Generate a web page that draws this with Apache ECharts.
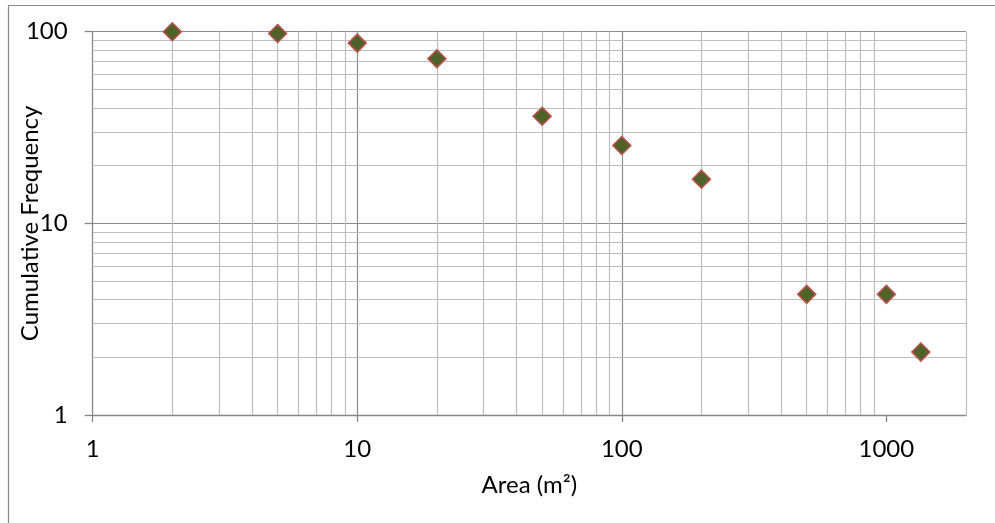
<!DOCTYPE html>
<html>
<head>
<meta charset="utf-8">
<script src="https://cdn.jsdelivr.net/npm/echarts@6/dist/echarts.min.js"></script>
<style>
  html, body { margin: 0; padding: 0; background: #ffffff; }
  #chart { width: 995px; height: 523px; }
</style>
</head>
<body>
<div id="chart"></div>
<script>
// ---- Data ----
const areas = [2, 5, 10, 20, 50, 100, 200, 500, 1000, 1350];
const cumulativeFrequency = [100, 97.9, 87.2, 72.3, 36.2, 25.5, 17.0, 4.26, 4.26, 2.13];
const xTickValues = [1, 10, 100, 1000];
const yTickValues = [1, 10, 100];
const xMinorGrid = [2, 3, 4, 5, 6, 7, 8, 9, 20, 30, 40, 50, 60, 70, 80, 90, 200, 300, 400, 500, 600, 700, 800, 900, 2000];
const yMinorGrid = [2, 3, 4, 5, 6, 7, 8, 9, 20, 30, 40, 50, 60, 70, 80, 90];
const xAxisTitle = 'Area (m²)';
const yAxisTitle = 'Cumulative Frequency';

// ---- Styles ----
const FONT = 'Lato';
const majorGrid = '#8c8c8c';
const minorGrid = '#bdbdbd';
const axisGray = '#868686';

const chart = echarts.init(document.getElementById('chart'), null, { renderer: 'canvas' });

const points = areas.map((a, i) => [a, cumulativeFrequency[i]]);

const option = {
  animation: false,
  backgroundColor: '#ffffff',
  graphic: [{
    type: 'rect',
    shape: { x: 8.5, y: 5.5, width: 1000, height: 540 },
    style: { fill: 'none', stroke: '#8a8a8a', lineWidth: 1.2 },
    z: -10,
    silent: true
  }],
  grid: { left: 92.7, top: 31.7, right: 29, bottom: 108, containLabel: false, outerBoundsMode: 'none' },
  xAxis: {
    type: 'log',
    logBase: 10,
    min: 1,
    max: 2000,
    name: xAxisTitle,
    nameLocation: 'middle',
    nameGap: 58,
    nameMoveOverlap: false,
    nameTextStyle: { fontFamily: FONT, fontSize: 24, color: '#000' },
    axisLine: { show: true, lineStyle: { color: axisGray, width: 1.3 } },
    axisTick: { show: true, inside: false, length: 7, lineStyle: { color: axisGray, width: 1.3 }, customValues: xTickValues },
    axisLabel: { fontFamily: FONT, fontSize: 24, color: '#000', margin: 22, customValues: xTickValues,
      formatter: v => String(Math.round(v)) },
    splitLine: { show: true, showMinLine: false, showMaxLine: false, lineStyle: { color: majorGrid, width: 1.2 } },
    minorTick: { show: false },
    minorSplitLine: { show: false }
  },
  yAxis: {
    type: 'log',
    logBase: 10,
    min: 1,
    max: 100,
    name: yAxisTitle,
    nameLocation: 'middle',
    nameRotate: 90,
    nameGap: 50,
    nameMoveOverlap: false,
    nameTextStyle: { fontFamily: FONT, fontSize: 24, color: '#000' },
    axisLine: { show: true, lineStyle: { color: axisGray, width: 1.3 } },
    axisTick: { show: true, inside: false, length: 8, lineStyle: { color: axisGray, width: 1.3 }, customValues: yTickValues },
    axisLabel: { fontFamily: FONT, fontSize: 24, color: '#000', margin: 25, customValues: yTickValues,
      formatter: v => String(Math.round(v)) },
    splitLine: { show: true, showMinLine: false, showMaxLine: true, lineStyle: { color: majorGrid, width: 1.2 } },
    minorTick: { show: false },
    minorSplitLine: { show: false }
  },
  series: [
    {
      name: 'minorGrid',
      type: 'scatter',
      data: [],
      silent: true,
      z: 1,
      markLine: {
        silent: true,
        symbol: ['none', 'none'],
        label: { show: false },
        animation: false,
        lineStyle: { color: minorGrid, width: 1.2, type: 'solid' },
        emphasis: { disabled: true },
        data: xMinorGrid.map(v => ({ xAxis: v })).concat(yMinorGrid.map(v => ({ yAxis: v })))
      }
    },
    {
      name: 'Cumulative Frequency',
      type: 'scatter',
      z: 5,
      symbol: 'diamond',
      symbolSize: 18,
      itemStyle: { color: '#4f6228', borderColor: '#c0504d', borderWidth: 1.5, opacity: 1 },
      data: points
    }
  ]
};

chart.setOption(option);
</script>
</body>
</html>
